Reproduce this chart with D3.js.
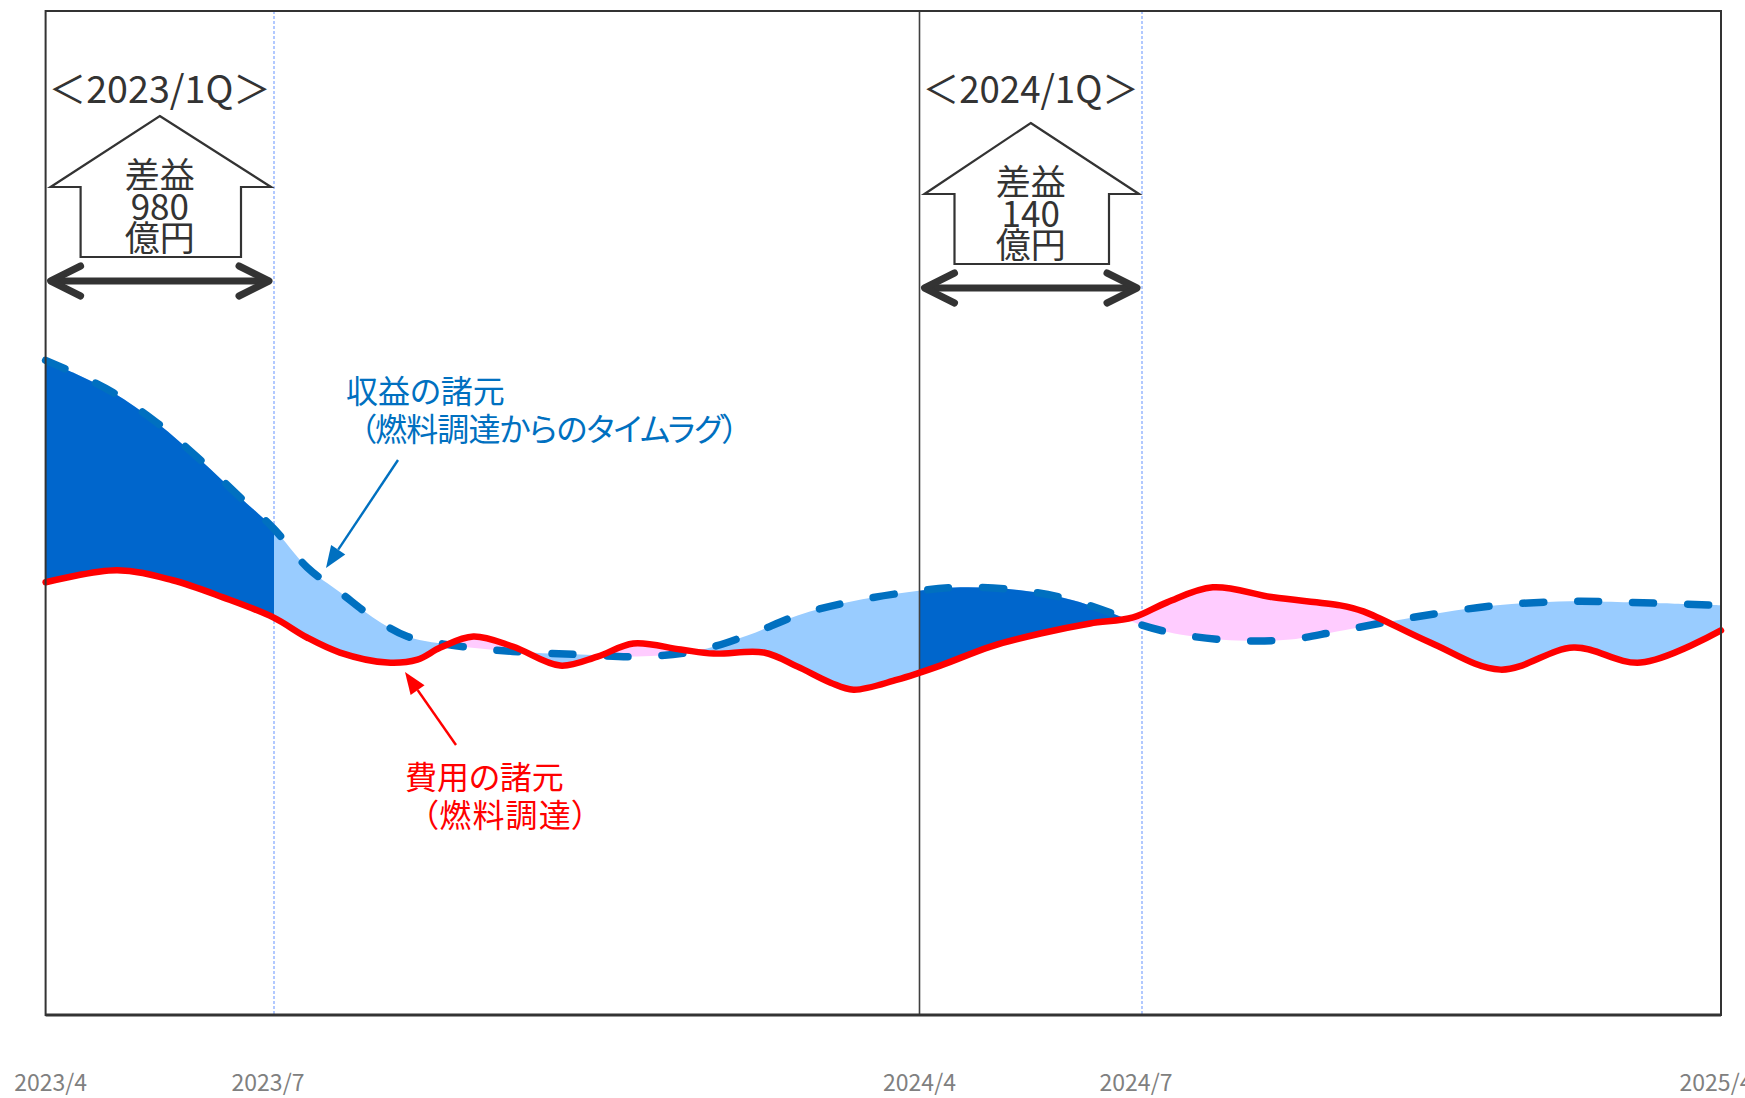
<!DOCTYPE html>
<html><head><meta charset="utf-8">
<script src="https://cdn.jsdelivr.net/npm/d3@7/dist/d3.min.js"></script>
<style>html,body{margin:0;padding:0;background:#fff;}svg{display:block;}</style>
</head><body>
<script>
// ---- data (months since 2023/4, values in arbitrary index units) ----
const tickMonths = [0, 3, 12, 15, 24];
const tickLabels = ["2023/4", "2023/7", "2024/4", "2024/7", "2025/4"];

const revenueMonths = [0, 0.36, 0.885, 1.46, 2.03, 2.55, 2.99, 3.46, 3.92, 4.38, 4.86, 5.32, 5.87, 6.57, 7.27, 8.06, 8.85, 9.6, 10.3, 11.0, 11.83, 12.55, 13.36, 14.07, 14.74, 14.97, 15.59, 16.48, 17.3, 18.03, 19.21, 20.52, 21.65, 22.59, 24];
const revenueValues = [65.2, 64.0, 62.0, 59.0, 55.3, 51.6, 48.5, 44.6, 42.1, 39.6, 37.7, 37.0, 36.5, 36.1, 35.9, 35.7, 36.2, 37.8, 39.8, 41.1, 42.1, 42.6, 42.3, 41.3, 39.6, 38.9, 37.9, 37.3, 37.4, 38.2, 39.6, 40.8, 41.2, 41.1, 40.8];

const costMonths = [0, 0.94, 1.67, 2.33, 2.99, 3.46, 3.92, 4.58, 5.0, 5.32, 5.78, 6.33, 6.99, 7.51, 8.01, 8.67, 9.13, 9.83, 10.3, 10.76, 11.08, 11.69, 12.28, 12.96, 13.63, 14.3, 14.88, 15.39, 16.1, 17.04, 18.08, 18.44, 19.48, 20.57, 21.71, 22.75, 24];
const costValues = [43.1, 44.3, 43.3, 41.6, 39.6, 37.6, 36.1, 35.1, 35.4, 36.6, 37.7, 36.7, 34.8, 35.7, 37.0, 36.4, 36.0, 36.1, 34.7, 33.1, 32.4, 33.4, 34.8, 36.7, 38.0, 39.0, 39.6, 41.1, 42.6, 41.6, 40.8, 40.2, 37.1, 34.4, 36.6, 35.1, 38.3];

const periodLabels = ["＜2023/1Q＞", "＜2024/1Q＞"];
const periodStart = [0, 12];
const periodEnd = [3, 15];
const periodGain = ["980", "140"];

const revenueLabel = ["収益の諸元", "（燃料調達からのタイムラグ）"];
const costLabel = ["費用の諸元", "（燃料調達）"];

// ---- layout ----
const W = 1745, H = 1098;
const pLeft = 45.6, pRight = 1721, pTop = 11, pBottom = 1015;
const FONT = "'Noto Sans CJK JP','Noto Sans',sans-serif";
const tickDx = [5, -6, 0, -6, -5];

const svg = d3.select("body").append("svg").attr("width", W).attr("height", H);
const defs = svg.append("defs");

const x = d3.scaleLinear().domain(tickMonths).range([pLeft, 274, 919.5, 1142, pRight]);
const y = d3.scaleLinear().domain([0, 100]).range([pBottom, pTop]);

const rev = revenueMonths.map((m, i) => [m, revenueValues[i]]);
const cost = costMonths.map((m, i) => [m, costValues[i]]);
const curve = d3.curveCatmullRom.alpha(0.5);

const line = d3.line().x(d => x(d[0])).y(d => y(d[1])).curve(curve);
const areaBelow = d3.area().x(d => x(d[0])).y0(pBottom).y1(d => y(d[1])).curve(curve);
const areaAbove = d3.area().x(d => x(d[0])).y0(pTop).y1(d => y(d[1])).curve(curve);

defs.append("clipPath").attr("id", "aboveCost").append("path").attr("d", areaAbove(cost));
defs.append("clipPath").attr("id", "aboveRev").append("path").attr("d", areaAbove(rev));
const pc = defs.append("clipPath").attr("id", "periods");
periodStart.forEach((s, i) => {
  pc.append("rect").attr("x", x(s)).attr("y", pTop).attr("width", x(periodEnd[i]) - x(s)).attr("height", pBottom - pTop);
});

// dotted quarter-end guides (under fills)
svg.selectAll(".guide").data(periodEnd).enter().append("line")
  .attr("x1", d => x(d)).attr("x2", d => x(d)).attr("y1", pTop).attr("y2", pBottom)
  .attr("stroke", "#7fa6ff").attr("stroke-width", 1.2).attr("stroke-dasharray", "3,2");

// fills
svg.append("g").attr("clip-path", "url(#aboveCost)")
  .append("path").attr("d", areaBelow(rev)).attr("fill", "#99CCFF");
svg.append("g").attr("clip-path", "url(#aboveRev)")
  .append("path").attr("d", areaBelow(cost)).attr("fill", "#FFCCFF");
svg.append("g").attr("clip-path", "url(#aboveCost)")
  .append("g").attr("clip-path", "url(#periods)")
  .append("path").attr("d", areaBelow(rev)).attr("fill", "#0066CC");

// 2024/4 solid divider
svg.append("line").attr("x1", x(12)).attr("x2", x(12)).attr("y1", pTop).attr("y2", pBottom)
  .attr("stroke", "#404040").attr("stroke-width", 1.6);

// lines
svg.append("path").attr("d", line(rev)).attr("fill", "none")
  .attr("stroke", "#0070C0").attr("stroke-width", 7.5).attr("stroke-linecap", "round")
  .attr("stroke-dasharray", "21,34");
svg.append("path").attr("d", line(cost)).attr("fill", "none")
  .attr("stroke", "#FF0000").attr("stroke-width", 6.5).attr("stroke-linecap", "round").attr("stroke-linejoin", "round");

// frame
svg.append("rect").attr("x", pLeft).attr("y", pTop).attr("width", pRight - pLeft).attr("height", pBottom - pTop)
  .attr("fill", "none").attr("stroke", "#333").attr("stroke-width", 2);
svg.append("line").attr("x1", pLeft).attr("x2", pRight).attr("y1", pBottom).attr("y2", pBottom)
  .attr("stroke", "#333").attr("stroke-width", 3);

// x tick labels
svg.selectAll(".tick").data(tickMonths).enter().append("text")
  .attr("x", (d, i) => x(d) + tickDx[i]).attr("y", 1091).attr("text-anchor", "middle")
  .attr("font-family", FONT).attr("font-size", 23).attr("fill", "#808080")
  .text((d, i) => tickLabels[i]);

// period annotations: label, house-shaped arrow, double arrow
const yShift = [0, 7];
periodStart.forEach((s, i) => {
  const x0 = x(s), x1 = x(periodEnd[i]), cx = (x0 + x1) / 2;
  const apex = 116 + yShift[i];
  const g = svg.append("g");
  g.append("text").attr("x", cx).attr("y", 103).attr("text-anchor", "middle")
    .attr("font-family", FONT).attr("font-size", 38).attr("fill", "#333")
    .attr("textLength", x1 - x0 - 6).attr("lengthAdjust", "spacingAndGlyphs")
    .text(periodLabels[i]);
  const sh = apex + 71, bt = apex + 141;
  const pts = [[cx, apex], [x1 - 3, sh], [x1 - 33, sh], [x1 - 33, bt], [x0 + 35, bt], [x0 + 35, sh], [x0 + 5, sh]];
  g.append("path").attr("d", "M" + pts.map(p => p.join(",")).join("L") + "Z")
    .attr("fill", "#fff").attr("stroke", "#333").attr("stroke-width", 2.2).attr("stroke-linejoin", "miter");
  const lines = ["差益", periodGain[i], "億円"];
  const t = g.append("text").attr("text-anchor", "middle")
    .attr("font-family", FONT).attr("font-size", 35).attr("fill", "#333");
  lines.forEach((s2, k) => {
    t.append("tspan").attr("x", cx).attr("y", apex + 72 + k * 31.5).text(s2);
  });
  const ay = apex + 165;
  g.append("line").attr("x1", x0 + 6).attr("x2", x1 - 6).attr("y1", ay).attr("y2", ay)
    .attr("stroke", "#333").attr("stroke-width", 7);
  g.append("path").attr("d", `M${x0 + 35},${ay - 15}L${x0 + 5},${ay}L${x0 + 35},${ay + 15}`)
    .attr("fill", "none").attr("stroke", "#333").attr("stroke-width", 7).attr("stroke-linecap", "round").attr("stroke-linejoin", "round");
  g.append("path").attr("d", `M${x1 - 35},${ay - 15}L${x1 - 5},${ay}L${x1 - 35},${ay + 15}`)
    .attr("fill", "none").attr("stroke", "#333").attr("stroke-width", 7).attr("stroke-linecap", "round").attr("stroke-linejoin", "round");
});

// callouts
function arrow(x1, y1, x2, y2, color) {
  const ang = Math.atan2(y2 - y1, x2 - x1), L = 22, Wd = 8.5;
  const bx = x2 - L * Math.cos(ang), by = y2 - L * Math.sin(ang);
  svg.append("line").attr("x1", x1).attr("y1", y1).attr("x2", bx).attr("y2", by)
    .attr("stroke", color).attr("stroke-width", 2.4);
  svg.append("path").attr("d", `M${x2},${y2}L${bx + Wd * Math.sin(ang)},${by - Wd * Math.cos(ang)}L${bx - Wd * Math.sin(ang)},${by + Wd * Math.cos(ang)}Z`)
    .attr("fill", color);
}
function callout(lines, xs, yc, spacing, color) {
  lines.forEach((t, k) => {
    svg.append("text").attr("x", xs[k]).attr("y", yc[k]).attr("dominant-baseline", "central")
      .attr("font-family", FONT).attr("font-size", 32).attr("fill", color)
      .attr("letter-spacing", spacing[k])
      .style("font-feature-settings", "'palt'").text(t);
  });
}
callout(revenueLabel, [346, 360], [389, 427], [0, -0.9], "#0070C0");
arrow(398, 460, 326, 568, "#0070C0");
callout(costLabel, [405, 422], [775, 813], [0, 1.2], "#FF0000");
arrow(456, 745, 405, 672, "#FF0000");
</script>
</body></html>
